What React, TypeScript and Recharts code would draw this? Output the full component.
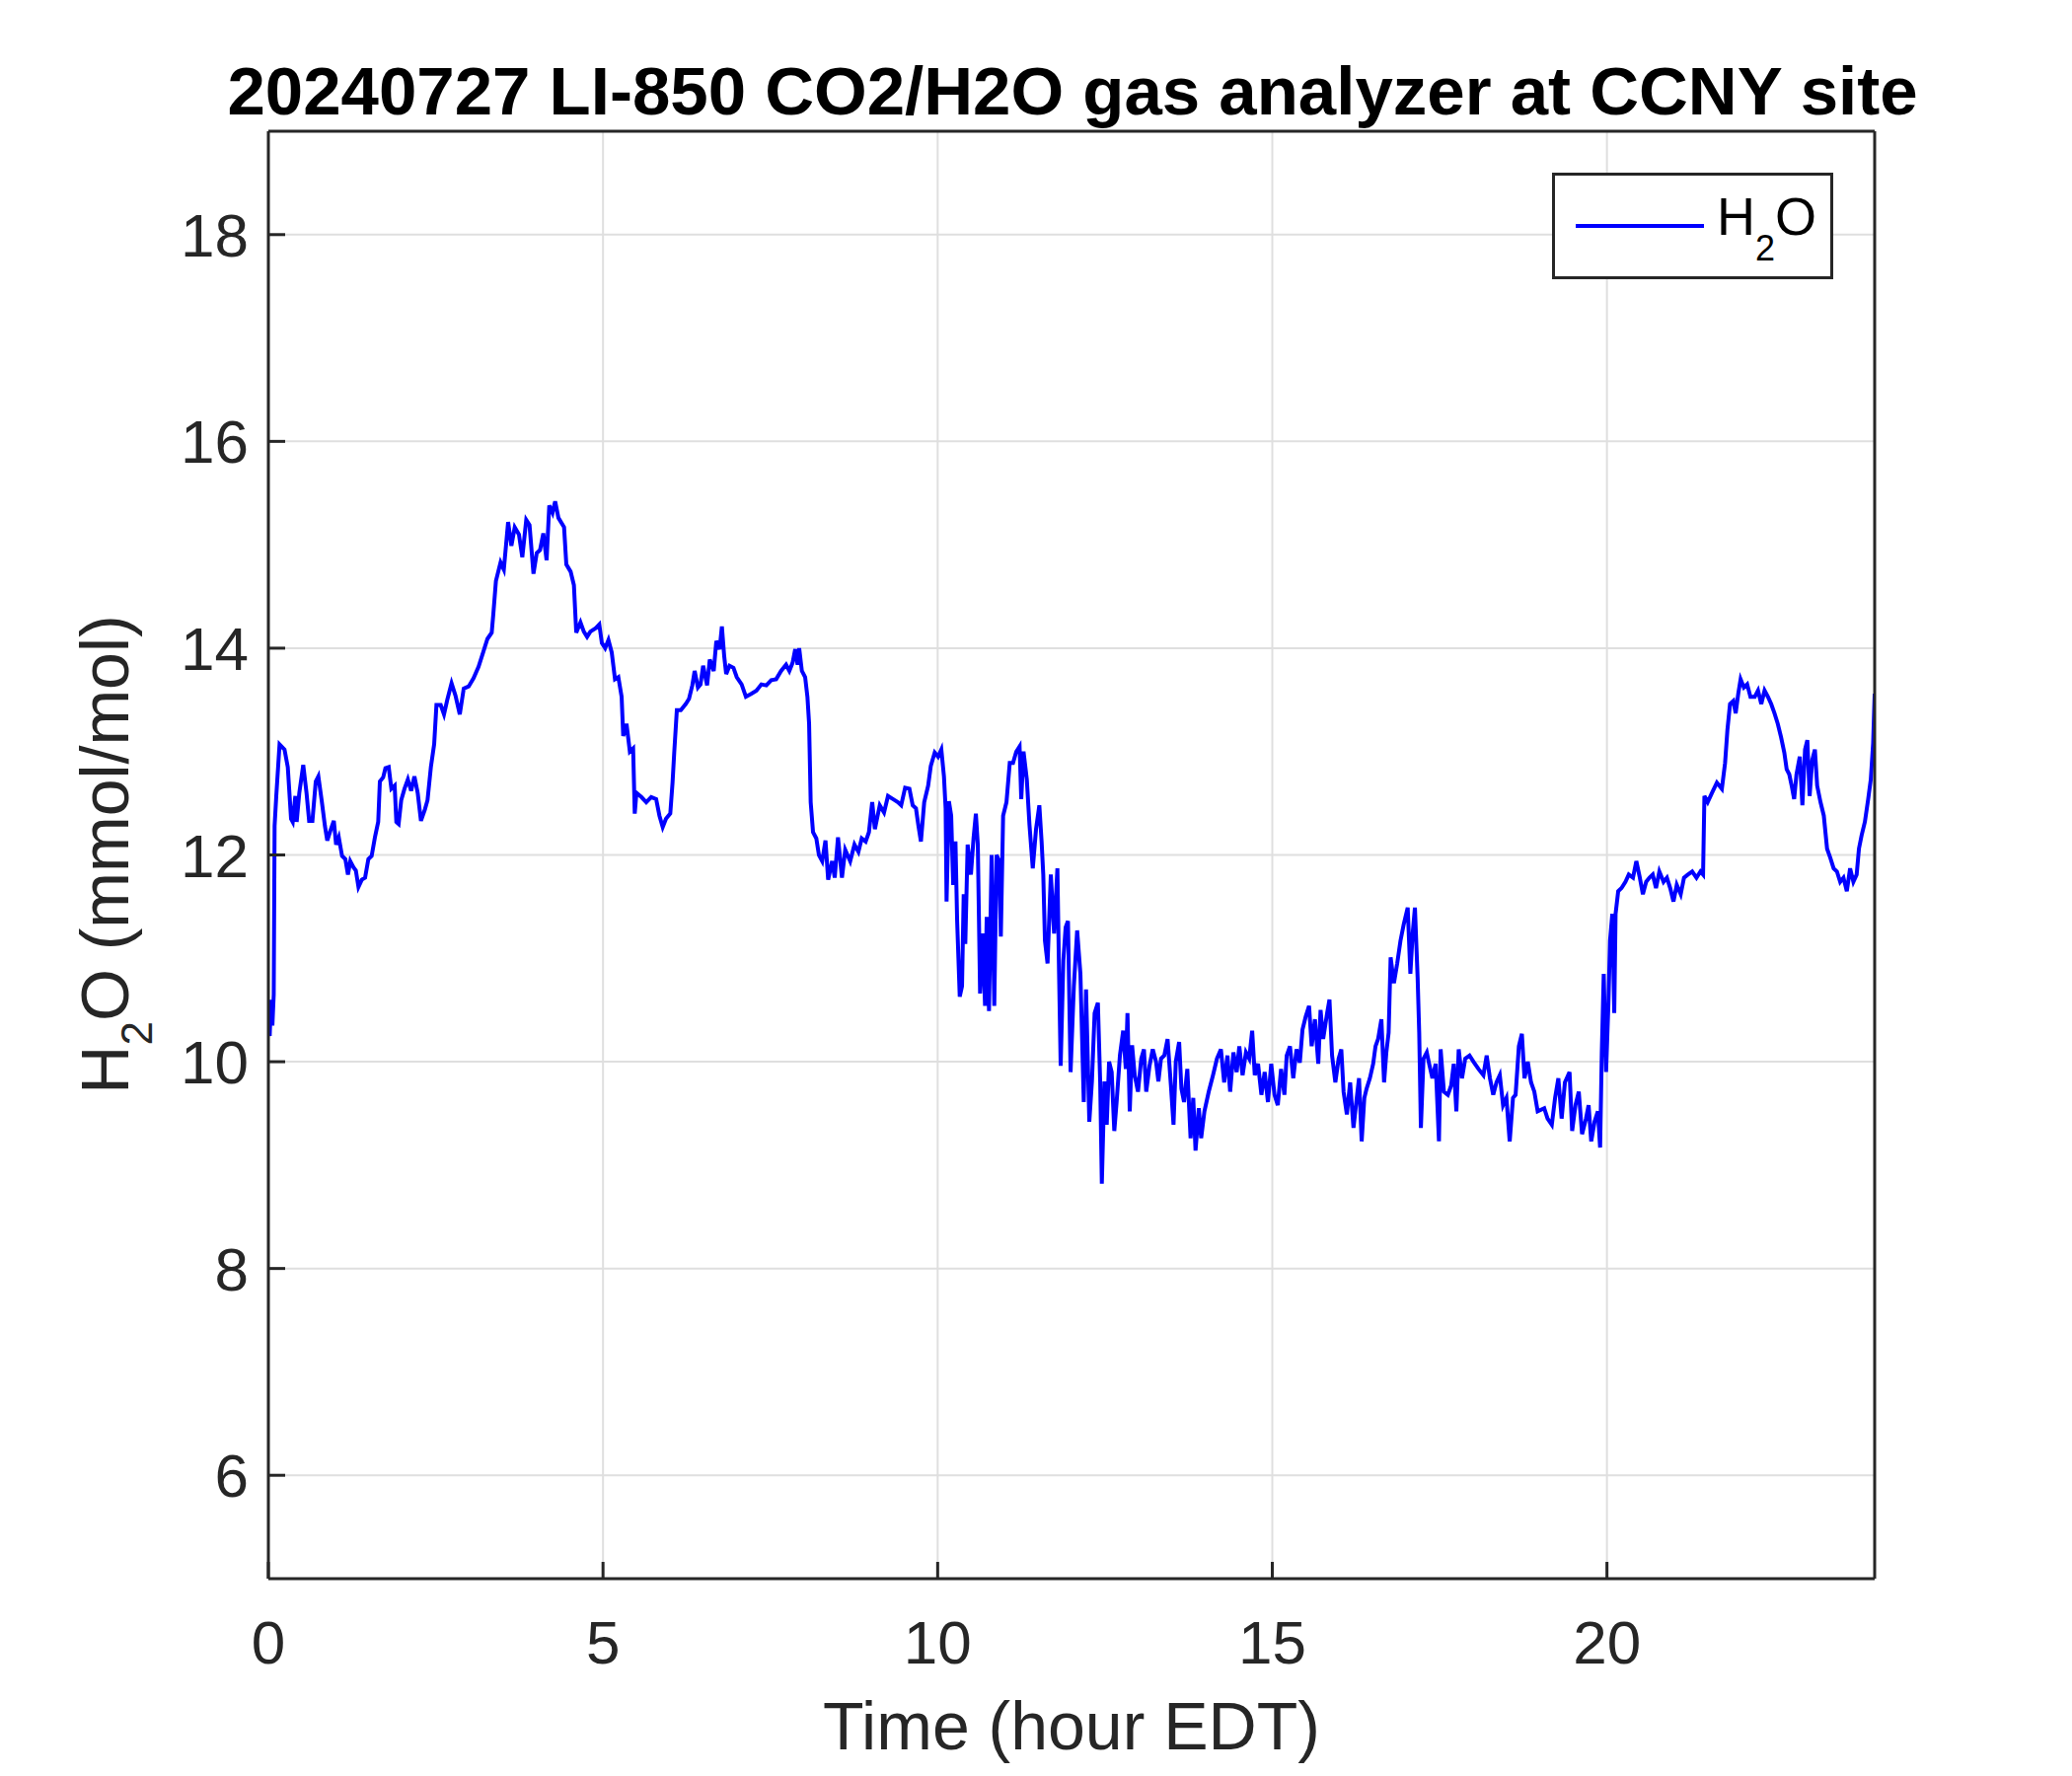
import React from 'react';
import { LineChart, Line, XAxis, YAxis, CartesianGrid, Legend } from 'recharts';

// LI-850 H2O readings, [hour EDT, mmol/mol]
const h2oNight: [number, number][] = [
  [0.0, 10.3], [0.02, 10.25], [0.04, 10.6], [0.06, 10.35], [0.08, 10.65], [0.093, 12.28], [0.118, 12.57], [0.167, 13.07], [0.241, 13.02], [0.29, 12.85],
  [0.339, 12.35], [0.364, 12.32], [0.403, 12.57], [0.423, 12.32], [0.462, 12.6], [0.521, 12.87], [0.57, 12.6], [0.609, 12.33], [0.658, 12.33], [0.708, 12.71],
  [0.747, 12.76], [0.796, 12.53], [0.845, 12.28], [0.88, 12.14], [0.929, 12.24], [0.978, 12.33], [1.012, 12.1], [1.052, 12.17], [1.101, 11.99], [1.15, 11.96],
  [1.189, 11.81], [1.224, 11.94], [1.273, 11.88], [1.307, 11.85], [1.346, 11.69], [1.396, 11.76], [1.445, 11.78], [1.494, 11.96], [1.543, 11.99], [1.592, 12.17],
  [1.641, 12.32], [1.666, 12.71], [1.715, 12.75], [1.749, 12.84], [1.798, 12.85], [1.838, 12.64], [1.887, 12.67], [1.912, 12.32], [1.946, 12.3], [1.985, 12.53],
  [2.034, 12.64], [2.084, 12.73], [2.133, 12.62], [2.182, 12.76], [2.231, 12.6], [2.28, 12.33], [2.339, 12.44], [2.378, 12.53], [2.428, 12.85], [2.477, 13.07],
  [2.511, 13.45], [2.575, 13.45], [2.624, 13.36], [2.673, 13.5], [2.737, 13.66], [2.796, 13.54], [2.86, 13.36], [2.919, 13.61], [2.993, 13.63], [3.066, 13.71],
  [3.14, 13.82], [3.214, 13.97], [3.273, 14.09], [3.337, 14.15], [3.361, 14.33], [3.4, 14.65], [3.469, 14.83], [3.518, 14.76], [3.582, 15.22], [3.631, 14.99],
  [3.681, 15.17], [3.744, 15.1], [3.794, 14.88], [3.853, 15.24], [3.902, 15.19], [3.961, 14.72], [4.01, 14.92], [4.059, 14.95], [4.108, 15.11], [4.157, 14.85],
  [4.197, 15.38], [4.246, 15.31], [4.285, 15.42], [4.334, 15.26], [4.418, 15.17], [4.452, 14.81], [4.516, 14.74], [4.565, 14.61], [4.6, 14.15], [4.663, 14.25],
  [4.713, 14.16], [4.762, 14.11], [4.811, 14.16], [4.885, 14.19], [4.944, 14.23], [4.983, 14.05],
];

const h2oMorning: [number, number][] = [
  [5.032, 14.0], [5.081, 14.08], [5.13, 13.96], [5.179, 13.7], [5.229, 13.72], [5.278, 13.53], [5.302, 13.15], [5.351, 13.27], [5.401, 13.0], [5.45, 13.03],
  [5.474, 12.4], [5.499, 12.6], [5.573, 12.56], [5.646, 12.51], [5.72, 12.56], [5.794, 12.54], [5.843, 12.38], [5.892, 12.27], [5.941, 12.35], [6.005, 12.4],
  [6.039, 12.7], [6.064, 12.99], [6.103, 13.4], [6.162, 13.4], [6.236, 13.46], [6.285, 13.51], [6.334, 13.64], [6.369, 13.78], [6.418, 13.62], [6.457, 13.65],
  [6.496, 13.83], [6.555, 13.64], [6.595, 13.89], [6.654, 13.78], [6.693, 14.07], [6.742, 13.99], [6.776, 14.21], [6.811, 13.92], [6.84, 13.75], [6.89, 13.83],
  [6.949, 13.81], [6.998, 13.72], [7.071, 13.65], [7.135, 13.53], [7.219, 13.56], [7.292, 13.59], [7.366, 13.65], [7.44, 13.64], [7.514, 13.69], [7.587, 13.7],
  [7.661, 13.78], [7.735, 13.84], [7.784, 13.78], [7.833, 13.86], [7.872, 13.99], [7.907, 13.84], [7.931, 14.0], [7.971, 13.78], [8.02, 13.72], [8.054, 13.53],
  [8.079, 13.27], [8.103, 12.51], [8.138, 12.22], [8.187, 12.16], [8.226, 12.0], [8.275, 11.94], [8.324, 12.14], [8.364, 11.76], [8.423, 11.94], [8.462, 11.78],
  [8.511, 12.17], [8.57, 11.78], [8.619, 12.05], [8.693, 11.94], [8.757, 12.1], [8.816, 12.03], [8.865, 12.16], [8.924, 12.13], [8.973, 12.22], [9.022, 12.51],
  [9.062, 12.25], [9.135, 12.48], [9.199, 12.41], [9.258, 12.57], [9.332, 12.54], [9.406, 12.51],
];

const h2oMidday: [number, number][] = [
  [9.455, 12.48], [9.514, 12.65], [9.578, 12.64], [9.627, 12.48], [9.676, 12.45], [9.711, 12.29], [9.75, 12.13], [9.799, 12.51], [9.858, 12.67], [9.897, 12.86],
  [9.956, 12.99], [10.006, 12.95], [10.055, 13.02], [10.094, 12.76], [10.119, 12.45], [10.133, 11.55], [10.168, 12.52], [10.202, 12.38], [10.232, 11.71], [10.266, 12.13],
  [10.291, 11.36], [10.33, 10.63], [10.364, 10.73], [10.389, 11.62], [10.413, 11.14], [10.448, 12.1], [10.497, 11.81], [10.536, 12.16], [10.571, 12.4], [10.6, 12.1],
  [10.634, 10.66], [10.674, 11.24], [10.708, 10.54], [10.733, 11.4], [10.767, 10.49], [10.806, 12.0], [10.846, 10.54], [10.88, 12.0], [10.919, 11.94], [10.944, 11.21],
  [10.978, 12.38], [11.028, 12.51], [11.077, 12.89], [11.126, 12.89], [11.175, 13.0], [11.224, 13.05], [11.249, 12.54], [11.283, 13.0], [11.332, 12.73], [11.372, 12.29],
  [11.421, 11.87], [11.47, 12.25], [11.519, 12.48], [11.553, 12.13], [11.578, 11.81], [11.603, 11.17], [11.642, 10.95], [11.691, 11.81], [11.74, 11.24], [11.789, 11.87],
  [11.814, 10.85], [11.838, 9.96], [11.878, 10.98], [11.912, 11.3], [11.947, 11.36], [11.986, 9.9], [12.035, 10.73], [12.084, 11.27], [12.133, 10.85], [12.183, 9.61],
  [12.217, 10.7], [12.266, 9.42], [12.305, 9.81], [12.345, 10.47], [12.394, 10.57], [12.428, 9.81], [12.453, 8.82], [12.492, 9.81], [12.526, 9.39], [12.561, 10.0],
  [12.6, 9.9], [12.639, 9.33], [12.674, 9.61], [12.723, 10.06], [12.772, 10.3], [12.811, 9.93], [12.836, 10.47], [12.87, 9.52], [12.905, 10.16], [12.944, 9.87],
  [12.993, 9.71], [13.042, 10.03], [13.082, 10.12], [13.116, 9.71], [13.165, 9.96], [13.214, 10.12], [13.263, 10.0], [13.298, 9.81], [13.337, 10.03], [13.386, 10.06],
  [13.435, 10.22], [13.485, 9.77], [13.524, 9.39], [13.558, 10.0], [13.608, 10.19], [13.642, 9.74], [13.681, 9.61], [13.73, 9.93], [13.779, 9.26], [13.819, 9.65],
  [13.853, 9.14], [13.902, 9.55], [13.937, 9.26], [13.986, 9.52], [14.05, 9.71], [14.114, 9.87],
];

const h2oAfternoon: [number, number][] = [
  [14.173, 10.03], [14.232, 10.12], [14.281, 9.8], [14.33, 10.06], [14.37, 9.71], [14.419, 10.09], [14.468, 9.9], [14.507, 10.15], [14.556, 9.87], [14.606, 10.09],
  [14.655, 10.03], [14.699, 10.3], [14.738, 9.87], [14.787, 9.98], [14.837, 9.68], [14.886, 9.9], [14.935, 9.61], [14.984, 9.98], [15.033, 9.68], [15.082, 9.58],
  [15.131, 9.93], [15.181, 9.68], [15.215, 10.06], [15.264, 10.15], [15.313, 9.84], [15.362, 10.12], [15.411, 9.99], [15.451, 10.31], [15.5, 10.44], [15.549, 10.54],
  [15.588, 10.15], [15.637, 10.41], [15.687, 9.98], [15.721, 10.5], [15.76, 10.22], [15.819, 10.47], [15.854, 10.6], [15.893, 10.06], [15.942, 9.8], [15.991, 10.03],
  [16.031, 10.12], [16.065, 9.71], [16.114, 9.49], [16.163, 9.8], [16.213, 9.36], [16.262, 9.65], [16.296, 9.84], [16.335, 9.23], [16.375, 9.65], [16.409, 9.74],
  [16.458, 9.84], [16.507, 9.98], [16.542, 10.15], [16.581, 10.22], [16.63, 10.41], [16.67, 9.8], [16.704, 10.09], [16.738, 10.28], [16.768, 11.01], [16.817, 10.76],
  [16.866, 10.95], [16.915, 11.17], [16.964, 11.33], [17.023, 11.49], [17.063, 10.85], [17.097, 11.24], [17.131, 11.49], [17.171, 10.82], [17.195, 10.28], [17.22, 9.36],
  [17.259, 10.03], [17.308, 10.09], [17.343, 9.98], [17.392, 9.84], [17.441, 9.98], [17.49, 9.23], [17.515, 10.12], [17.564, 9.71], [17.623, 9.68], [17.672, 9.77],
  [17.711, 9.98], [17.75, 9.52], [17.785, 10.12], [17.834, 9.84], [17.883, 10.03], [17.947, 10.06], [18.006, 10.0], [18.08, 9.93], [18.154, 9.87], [18.203, 10.06],
  [18.252, 9.84], [18.301, 9.68], [18.35, 9.8], [18.399, 9.87], [18.448, 9.58], [18.498, 9.65], [18.547, 9.23], [18.596, 9.65], [18.635, 9.68], [18.684, 10.15],
  [18.729, 10.27], [18.768, 9.84], [18.817, 10.0], [18.866, 9.8], [18.915, 9.71], [18.965, 9.52],
];

const h2oEvening: [number, number][] = [
  [19.063, 9.55], [19.112, 9.45], [19.176, 9.39], [19.225, 9.65], [19.274, 9.84], [19.323, 9.45], [19.372, 9.8], [19.441, 9.9], [19.48, 9.33], [19.53, 9.58],
  [19.579, 9.71], [19.628, 9.3], [19.687, 9.45], [19.726, 9.58], [19.765, 9.23], [19.815, 9.42], [19.864, 9.52], [19.898, 9.17], [19.923, 10.09], [19.952, 10.85],
  [19.987, 9.9], [20.021, 10.54], [20.046, 11.17], [20.08, 11.43], [20.109, 10.47], [20.129, 11.43], [20.168, 11.65], [20.218, 11.68], [20.276, 11.74], [20.326, 11.81],
  [20.389, 11.78], [20.439, 11.94], [20.488, 11.79], [20.537, 11.62], [20.586, 11.74], [20.635, 11.78], [20.684, 11.81], [20.733, 11.68], [20.783, 11.84], [20.846, 11.74],
  [20.896, 11.78], [20.945, 11.68], [20.994, 11.55], [21.043, 11.71], [21.102, 11.62], [21.151, 11.78], [21.21, 11.81], [21.274, 11.84], [21.338, 11.78], [21.397, 11.84],
  [21.436, 11.81], [21.456, 12.57], [21.505, 12.51], [21.569, 12.6], [21.643, 12.7], [21.717, 12.64], [21.765, 12.89], [21.8, 13.21], [21.839, 13.46], [21.888, 13.49],
  [21.923, 13.37], [21.962, 13.56], [21.997, 13.7], [22.046, 13.62], [22.095, 13.65], [22.144, 13.53], [22.208, 13.53], [22.257, 13.59], [22.306, 13.46], [22.355, 13.59],
  [22.405, 13.53], [22.454, 13.46], [22.503, 13.37], [22.552, 13.27], [22.601, 13.14], [22.65, 12.99], [22.685, 12.83], [22.724, 12.78], [22.763, 12.66], [22.797, 12.54],
  [22.832, 12.78], [22.881, 12.95], [22.92, 12.48], [22.96, 13.02], [22.994, 13.11], [23.028, 12.57], [23.068, 12.92], [23.107, 13.02], [23.141, 12.67], [23.191, 12.51],
  [23.24, 12.38], [23.289, 12.06], [23.338, 11.97], [23.387, 11.87], [23.436, 11.84], [23.485, 11.74], [23.534, 11.78], [23.584, 11.65], [23.633, 11.87], [23.682, 11.74],
  [23.731, 11.81], [23.765, 12.06], [23.805, 12.19], [23.854, 12.32], [23.903, 12.54], [23.942, 12.73], [23.977, 13.08], [24.0, 13.56],
];

const xTicks = [0, 5, 10, 15, 20];
const yTicks = [6, 8, 10, 12, 14, 16, 18];
const titleText = '20240727 LI-850 CO2/H2O gas analyzer at CCNY site';

const data = [...h2oNight, ...h2oMorning, ...h2oMidday, ...h2oAfternoon, ...h2oEvening].map(([t, v]) => ({ t, v }));

const FONT = '"Liberation Sans", Arial, Helvetica, sans-serif';
const AXIS = '#262626';
const BLUE = '#0000ff';

// plot box: x 272..1900, y 133..1600
const renderTitle = () => (
  <text x={1087} y={116} textAnchor="middle" fontFamily={FONT} fontSize={69} fontWeight="bold" fill="#000">
    {titleText}
  </text>
);

const renderXLabel = () => (
  <text x={1086} y={1773} textAnchor="middle" fontFamily={FONT} fontSize={68} fill={AXIS}>
    Time (hour EDT)
  </text>
);

const renderYLabel = () => (
  <text x={130} y={866} transform="rotate(-90 130 866)" textAnchor="middle" fontFamily={FONT} fontSize={68} fill={AXIS}>
    H<tspan fontSize={44} dy={24}>2</tspan>
    <tspan dy={-24}>O (mmol/mol)</tspan>
  </text>
);

const renderLegend = () => (
  <svg width={285} height={108} style={{ display: 'block' }}>
    <rect x={1.5} y={1.5} width={282} height={105} fill="#fff" stroke={AXIS} strokeWidth={3} />
    <line x1={24} x2={154} y1={54} y2={54} stroke={BLUE} strokeWidth={4} />
    <text x={167} y={63} fontFamily={FONT} fontSize={54} fill="#000">
      H<tspan fontSize={36} dy={26}>2</tspan>
      <tspan dy={-26}>O</tspan>
    </text>
  </svg>
);

const tickFont = { fontSize: 62, fill: AXIS, fontFamily: FONT };

export default function App() {
  return (
    <div style={{ position: 'absolute', left: 0, top: 0, width: 2100, height: 1800, background: '#fff' }}>
      <LineChart width={2100} height={1800} data={data} margin={{ top: 113, right: 180, bottom: 140, left: 192 }}>
        <CartesianGrid stroke="#dfdfdf" strokeWidth={2} />
        <XAxis
          dataKey="t"
          type="number"
          domain={[0, 24]}
          ticks={xTicks}
          interval={0}
          allowDataOverflow
          height={60}
          stroke={AXIS}
          strokeWidth={3}
          tickSize={-17}
          tickMargin={59}
          tick={tickFont}
          label={renderXLabel}
        />
        <XAxis
          xAxisId="top"
          orientation="top"
          type="number"
          domain={[0, 24]}
          ticks={xTicks}
          interval={0}
          allowDataOverflow
          height={20}
          stroke={AXIS}
          strokeWidth={3}
          tickSize={-17}
          tick={false}
          label={renderTitle}
        />
        <YAxis
          type="number"
          domain={[5, 19]}
          ticks={yTicks}
          interval={0}
          allowDataOverflow
          width={80}
          stroke={AXIS}
          strokeWidth={3}
          tickSize={-17}
          tickMargin={37}
          tick={tickFont}
          label={renderYLabel}
        />
        <YAxis
          yAxisId="right"
          orientation="right"
          type="number"
          domain={[5, 19]}
          ticks={yTicks}
          interval={0}
          allowDataOverflow
          width={20}
          stroke={AXIS}
          strokeWidth={3}
          tickSize={-17}
          tick={false}
        />
        <Legend
          layout="vertical"
          align="center"
          verticalAlign="middle"
          content={renderLegend}
          wrapperStyle={{ left: 1573, top: 175, width: 285, height: 108 }}
        />
        <Line
          dataKey="v"
          name="H2O"
          type="linear"
          stroke={BLUE}
          strokeWidth={4}
          strokeLinejoin="miter"
          dot={false}
          activeDot={false}
          isAnimationActive={false}
        />
      </LineChart>
    </div>
  );
}
